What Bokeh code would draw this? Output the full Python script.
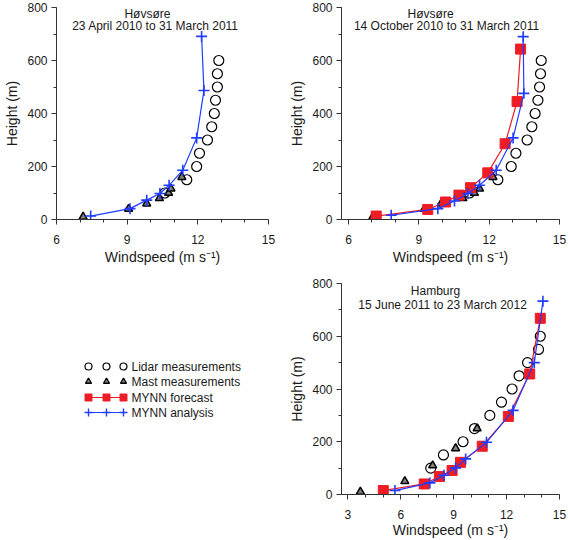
from bokeh.plotting import figure
from bokeh.layouts import row, column
from bokeh.models import Range1d, SingleIntervalTicker, Label
from bokeh.embed import file_html
from bokeh.resources import INLINE
from bokeh.core.properties import value

# ---------------- data ----------------
lidar_h = [100, 150, 200, 250, 300, 350, 400, 450, 500, 550, 600]

# Panel 1: Hovsore 23 April 2010 to 31 March 2011
p1_lidar_ws = [10.6, 11.53, 11.95, 12.07, 12.41, 12.59, 12.70, 12.75, 12.83, 12.83, 12.89]
p1_mast_h = [10, 40, 60, 80, 100, 116, 160]
p1_mast_ws = [7.13, 9.06, 9.83, 10.37, 10.76, 10.86, 11.32]
p1_ana_h = [13, 41, 73, 98, 129, 186, 308, 487, 691]
p1_ana_ws = [7.45, 9.12, 9.83, 10.39, 10.78, 11.36, 11.95, 12.26, 12.16]

# Panel 2: Hovsore 14 October 2010 to 31 March 2011
p2_lidar_ws = [11.16, 12.37, 12.94, 13.14, 13.62, 13.82, 13.96, 14.08, 14.15, 14.19, 14.22]
p2_mast_h = [10, 40, 60, 80, 100, 116, 160]
p2_mast_ws = [7.04, 9.24, 9.95, 10.88, 11.37, 11.59, 12.16]
p2_fc_h = [13, 38, 66, 92, 120, 176, 286, 445, 643]
p2_fc_ws = [7.18, 9.38, 10.14, 10.71, 11.20, 11.94, 12.68, 13.19, 13.34]
p2_ana_h = [16, 41, 70, 98, 129, 186, 308, 476, 690]
p2_ana_ws = [7.82, 9.81, 10.52, 11.09, 11.59, 12.30, 13.02, 13.48, 13.45]

# Panel 3: Hamburg 15 June 2011 to 23 March 2012
p3_lidar_ws = [7.70, 8.42, 9.53, 10.18, 11.05, 11.71, 12.31, 12.71, 13.19, 13.81, 13.91]
p3_mast_h = [10, 50, 110, 175, 250]
p3_mast_ws = [3.71, 6.23, 7.81, 9.11, 10.33]
p3_fc_h = [15, 40, 68, 91, 122, 183, 296, 457, 668]
p3_fc_ws = [5.01, 7.33, 8.19, 8.91, 9.39, 10.62, 12.10, 13.31, 13.91]
p3_ana_h = [15, 44, 73, 101, 135, 198, 319, 500, 733]
p3_ana_ws = [5.67, 7.65, 8.45, 9.11, 9.68, 10.86, 12.37, 13.57, 14.06]

titles = [("Høvsøre", "23 April 2010 to 31 March 2011"),
          ("Høvsøre", "14 October 2010 to 31 March 2011"),
          ("Hamburg", "15 June 2011 to 23 March 2012")]
legend_labels = ["Lidar measurements", "Mast measurements", "MYNN forecast", "MYNN analysis"]

# ---------------- style ----------------
FONT = "Liberation Sans"
TXT = "#1a1a1a"
RED = "#ee1c24"
BLUE = "#1f3cff"


def make_fig(xr, width, height, bl, br, bt, bb, xstand=10, xlabstand=2, ylabstand=4):
    p = figure(width=width, height=height, x_range=Range1d(*xr), y_range=Range1d(0, 800),
               output_backend="svg", toolbar_location=None,
               min_border_left=bl, min_border_right=br, min_border_top=bt, min_border_bottom=bb)
    p.grid.visible = False
    p.outline_line_color = None
    p.background_fill_color = "white"
    p.xaxis.ticker = SingleIntervalTicker(interval=3, num_minor_ticks=3)
    p.yaxis.ticker = SingleIntervalTicker(interval=200, num_minor_ticks=2)
    for ax in (p.xaxis[0], p.yaxis[0]):
        ax.major_tick_out = 5
        ax.major_tick_in = 0
        ax.minor_tick_out = 3
        ax.minor_tick_in = 0
        ax.axis_line_color = "#333333"
        ax.major_tick_line_color = "#333333"
        ax.minor_tick_line_color = "#333333"
        ax.major_label_text_font = FONT
        ax.major_label_text_font_size = "12px"
        ax.major_label_text_color = TXT
        ax.axis_label_text_font = FONT
        ax.axis_label_text_font_size = "14px"
        ax.axis_label_text_font_style = "normal"
        ax.axis_label_text_color = TXT
    p.xaxis.major_label_standoff = xstand
    p.xaxis.axis_label_standoff = xlabstand
    p.yaxis.major_label_standoff = 4
    p.yaxis.axis_label_standoff = ylabstand
    p.xaxis.axis_label = "Windspeed (m s⁻¹)"
    p.yaxis.axis_label = "Height (m)"
    return p


def add_title(p, lines, x1, y1, x2, y2):
    for t, x, y in ((lines[0], x1, y1), (lines[1], x2, y2)):
        p.add_layout(Label(x=x, y=y, text=t, text_align="center", text_baseline="middle",
                           text_font=FONT, text_font_size="12px", text_color=TXT))


def add_obs(p, lidar_ws, mast_ws, mast_h):
    p.scatter(lidar_ws, lidar_h, marker="circle", size=10, fill_color=None,
              line_color="black", line_width=1.2)
    p.scatter(mast_ws, mast_h, marker="triangle", size=8, fill_color="#808080",
              line_color="black", line_width=1.5)


def add_fc(p, ws, h):
    p.line(ws, h, line_color=RED, line_width=1.2)
    p.scatter(ws, h, marker="square", size=10, fill_color=RED, line_color=RED)


def add_ana(p, ws, h):
    p.line(ws, h, line_color=BLUE, line_width=1.2)
    p.scatter(ws, h, marker="cross", size=11, line_color=BLUE, line_width=1.6)


# Panel 1
p1 = make_fig((6, 15), 284, 275, 56, 16, 7, 56, ylabstand=4)
add_obs(p1, p1_lidar_ws, p1_mast_ws, p1_mast_h)
add_ana(p1, p1_ana_ws, p1_ana_h)
add_title(p1, titles[0], 9.86, 777, 10.2, 730)

# Panel 2
p2 = make_fig((5.7, 15), 284, 275, 57, 9, 7, 56)
add_obs(p2, p2_lidar_ws, p2_mast_ws, p2_mast_h)
add_fc(p2, p2_fc_ws, p2_fc_h)
add_ana(p2, p2_ana_ws, p2_ana_h)
add_title(p2, titles[1], 9.50, 777, 10.18, 730)

# Panel 3
p3 = make_fig((2.64, 15), 284, 265, 57, 9, 8, 46, xstand=10, xlabstand=0)
add_obs(p3, p3_lidar_ws, p3_mast_ws, p3_mast_h)
add_fc(p3, p3_fc_ws, p3_fc_h)
add_ana(p3, p3_ana_ws, p3_ana_h)
add_title(p3, titles[2], 7.97, 773, 8.37, 720)

# Legend panel (drawn manually: three symbols per row as in the original)
leg = figure(width=284, height=265, x_range=Range1d(56, 268), y_range=Range1d(540, 275),
             x_axis_type=None, y_axis_type=None, output_backend="svg",
             toolbar_location=None, min_border_left=56, min_border_right=16,
             min_border_top=0, min_border_bottom=0)
leg.grid.visible = False
leg.outline_line_color = None
row_y = [366, 381, 397, 412]
sym_x = [88, 106, 123]
leg.scatter(sym_x, [row_y[0]] * 3, marker="circle", size=7, fill_color=None,
            line_color="black", line_width=1.2)
leg.scatter(sym_x, [row_y[1]] * 3, marker="triangle", size=6, fill_color="#808080",
            line_color="black", line_width=1.3)
leg.line([sym_x[0], sym_x[-1]], [row_y[2]] * 2, line_color=RED, line_width=1.2)
leg.scatter(sym_x, [row_y[2]] * 3, marker="square", size=7, fill_color=RED, line_color=RED)
leg.line([sym_x[0], sym_x[-1]], [row_y[3]] * 2, line_color=BLUE, line_width=1.2)
leg.scatter(sym_x, [row_y[3]] * 3, marker="cross", size=8, line_color=BLUE, line_width=1.4)
leg.text(x=[131] * 4, y=row_y, text=legend_labels, text_font=value(FONT),
         text_font_size="12px", text_baseline="middle", text_align="left", text_color=TXT)

layout = row(column(p1, leg), column(p2, p3))

open("out.html", "w").write(file_html(layout, INLINE))
